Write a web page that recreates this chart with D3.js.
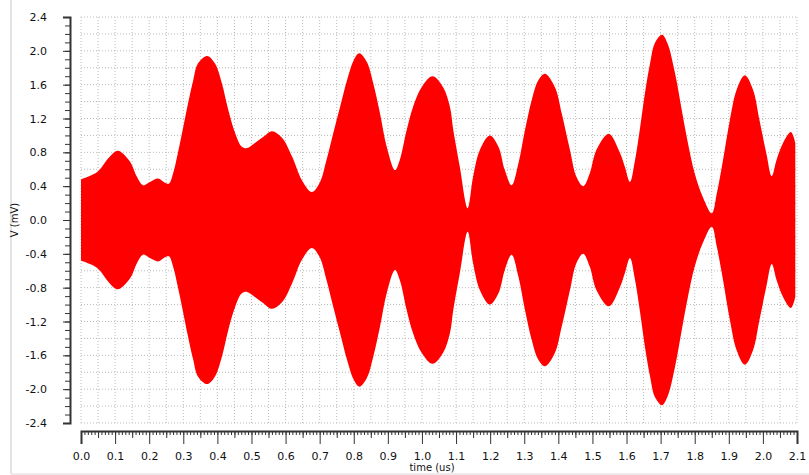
<!DOCTYPE html>
<html>
<head>
<meta charset="utf-8">
<script src="https://cdn.jsdelivr.net/npm/d3@7"></script>
<style>
  body { margin: 0; background: #fff; }
  svg { display: block; }
  .axis text { font-family: "DejaVu Sans", sans-serif; font-size: 11px; fill: #111; }
  .axis path, .axis line { stroke: #333; }
  .grid line { stroke: #bbb; stroke-dasharray: 1,2; }
</style>
</head>
<body>
<svg id="chart" width="809" height="475"></svg>
<script>
// envelope of the signal (upper half, the lower half is its mirror)
const times = [0, 0.041, 0.056, 0.08, 0.108, 0.144, 0.164, 0.182, 0.202, 0.227, 0.246, 0.258, 0.27, 0.284, 0.298,
  0.314, 0.329, 0.343, 0.37, 0.393, 0.413, 0.432, 0.452, 0.471, 0.487, 0.51, 0.534, 0.56, 0.59, 0.619, 0.648,
  0.677, 0.70, 0.72, 0.74, 0.76, 0.78, 0.80, 0.816, 0.838, 0.857, 0.877, 0.897, 0.921, 0.935, 0.955, 0.974,
  0.999, 1.031, 1.062, 1.082, 1.092, 1.111, 1.134, 1.15, 1.17, 1.199, 1.224, 1.243, 1.263, 1.283, 1.302,
  1.322, 1.341, 1.361, 1.39, 1.41, 1.434, 1.453, 1.473, 1.492, 1.512, 1.548, 1.58, 1.595, 1.61, 1.625,
  1.64, 1.654, 1.669, 1.683, 1.704, 1.72, 1.742, 1.762, 1.78, 1.80, 1.824, 1.85, 1.865, 1.883, 1.903,
  1.923, 1.947, 1.971, 1.99, 2.01, 2.026, 2.04, 2.059, 2.082, 2.095];
const amp = [0.48, 0.55, 0.60, 0.73, 0.82, 0.69, 0.51, 0.41, 0.45, 0.49, 0.44, 0.43, 0.55, 0.79, 1.06,
  1.38, 1.65, 1.85, 1.94, 1.85, 1.62, 1.30, 1.03, 0.87, 0.85, 0.91, 0.98, 1.05, 0.97, 0.75, 0.47,
  0.33, 0.44, 0.71, 1.03, 1.34, 1.65, 1.89, 1.97, 1.87, 1.62, 1.26, 0.86, 0.59, 0.71, 1.06, 1.34,
  1.57, 1.70, 1.57, 1.34, 1.06, 0.63, 0.14, 0.51, 0.83, 1.00, 0.87, 0.59, 0.41, 0.67, 1.06,
  1.42, 1.65, 1.73, 1.57, 1.26, 0.83, 0.51, 0.40, 0.55, 0.83, 1.02, 0.80, 0.63, 0.45, 0.71,
  1.10, 1.50, 1.85, 2.09, 2.19, 2.09, 1.74, 1.30, 0.91, 0.55, 0.27, 0.08, 0.32, 0.71, 1.18,
  1.54, 1.71, 1.54, 1.18, 0.79, 0.52, 0.71, 0.91, 1.04, 0.91];

const xTicks = d3.range(0, 22).map(i => i / 10);
const yTicks = [-2.4, -2.0, -1.6, -1.2, -0.8, -0.4, 0.0, 0.4, 0.8, 1.2, 1.6, 2.0, 2.4];

const svg = d3.select("#chart");
const plotLeft = 81, plotRight = 797, plotTop = 17, plotBottom = 423;

const x = d3.scaleLinear().domain([0, 2.1]).range([plotLeft, plotRight]);
const y = d3.scaleLinear().domain([-2.4, 2.4]).range([plotBottom, plotTop]);

// outer frame
svg.append("line").attr("x1", 11).attr("x2", 11).attr("y1", 0).attr("y2", 474)
  .attr("stroke", "#c8c8c8");
svg.append("line").attr("x1", 11).attr("x2", 809).attr("y1", 474).attr("y2", 474)
  .attr("stroke", "#e0d4d8");

// grid
const grid = svg.append("g").attr("class", "grid");
grid.selectAll(".gx").data(d3.range(0, 43).map(i => i * 0.05)).enter().append("line")
  .attr("x1", d => x(d)).attr("x2", d => x(d)).attr("y1", plotTop).attr("y2", plotBottom);
grid.selectAll(".gy").data(d3.range(0, 25).map(i => -2.4 + i * 0.2)).enter().append("line")
  .attr("x1", plotLeft).attr("x2", plotRight).attr("y1", d => y(d)).attr("y2", d => y(d));

// signal
const area = d3.area()
  .x((d, i) => x(times[i]))
  .y0((d, i) => y(-amp[i]))
  .y1((d, i) => y(amp[i]))
  .curve(d3.curveCatmullRom);
svg.append("path").datum(times).attr("d", area).attr("fill", "#ff0000");

// y axis
const yAxisX = 70;
svg.append("g").attr("class", "axis")
  .attr("transform", "translate(" + yAxisX + ",0)")
  .call(d3.axisLeft(y).tickValues(d3.range(0, 49).map(i => -2.4 + i * 0.1)).tickSize(5).tickFormat(""))
  .call(g => g.select(".domain").remove());
svg.append("g").attr("class", "axis")
  .attr("transform", "translate(" + yAxisX + ",0)")
  .call(d3.axisLeft(y).tickValues(yTicks).tickSizeOuter(0).tickSize(7).tickPadding(16)
    .tickFormat(d3.format(".1f")))
  .call(g => g.select(".domain").attr("stroke-width", 2))
  .call(g => g.selectAll("text").text(d => d3.format(".1f")(d).replace("−", "-")));

// x axis
const xAxisY = 431;
svg.append("g").attr("class", "axis")
  .attr("transform", "translate(0," + xAxisY + ")")
  .call(d3.axisBottom(x).tickValues(d3.range(0, 211).map(i => i / 100)).tickSize(4).tickFormat(""))
  .call(g => g.select(".domain").remove());
svg.append("g").attr("class", "axis")
  .attr("transform", "translate(0," + xAxisY + ")")
  .call(d3.axisBottom(x).tickValues(d3.range(0, 21).map(i => i / 10 + 0.05)).tickSize(7).tickFormat(""))
  .call(g => g.select(".domain").remove());
svg.append("g").attr("class", "axis")
  .attr("transform", "translate(0," + xAxisY + ")")
  .call(d3.axisBottom(x).tickValues(xTicks).tickSizeOuter(0).tickSize(13).tickPadding(8)
    .tickFormat(d3.format(".1f")))
  .call(g => g.select(".domain").attr("stroke-width", 2));

// axis titles
svg.append("text").attr("transform", "translate(18,220) rotate(-90)")
  .attr("text-anchor", "middle").attr("font-family", "DejaVu Sans, sans-serif")
  .attr("font-size", "10px").attr("fill", "#111").text("V (mV)");
svg.append("text").attr("x", 432).attr("y", 471)
  .attr("text-anchor", "middle").attr("font-family", "DejaVu Sans, sans-serif")
  .attr("font-size", "10px").attr("fill", "#111").text("time (us)");
</script>
</body>
</html>
